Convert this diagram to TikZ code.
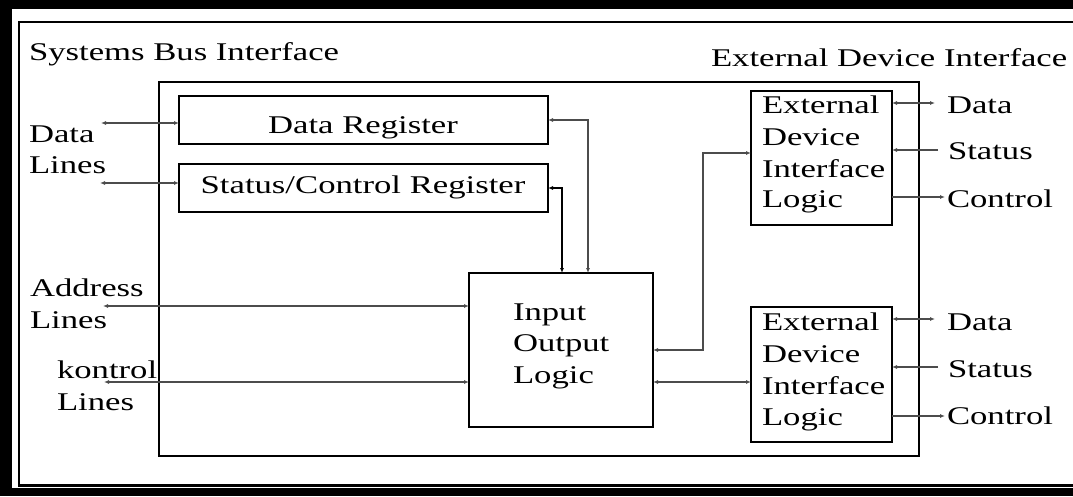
\documentclass[tikz,border=0pt]{standalone}
\usepackage{fontspec}
\setmainfont{Liberation Serif}[FakeStretch=1.36]
\usetikzlibrary{arrows.meta}
\begin{document}
\begin{tikzpicture}[x=1pt,y=-1pt,
  >={Latex[length=5pt,width=4pt]},
  every node/.style={font=\fontsize{25.5}{31}\selectfont, inner sep=0pt, outer sep=0pt},
  lbl/.style={anchor=base west},
  clbl/.style={anchor=base},
  boxnode/.style={draw, line width=1.8pt, anchor=north west, rectangle},
  conn/.style={line width=1.1pt, draw=black!70},
  darkconn/.style={line width=1.5pt, draw=black}]
\useasboundingbox (0,0) rectangle (1073,496);
% page background and frame
\fill[black] (0,0) rectangle (1073,496);
\fill[white] (12,9) rectangle (1073,487.5);
\draw[line width=2pt] (1080,22) -- (19,22) -- (19,485);
\draw[line width=3pt] (18,485) -- (1080,485);

% titles
\node[lbl] (tsys) at (29,60) {Systems Bus Interface};
\node[lbl] (text) at (711,66) {External Device Interface};

% boxes
\node[boxnode, minimum width=760pt, minimum height=374pt] (dev) at (159,82) {};
\node[boxnode, minimum width=369pt, minimum height=48pt] (dr) at (179,96) {};
\node[boxnode, minimum width=369pt, minimum height=48pt] (sc) at (179,164) {};
\node[boxnode, minimum width=184pt, minimum height=154pt] (io) at (469,273) {};
\node[boxnode, minimum width=141pt, minimum height=134pt] (e1) at (751,91) {};
\node[boxnode, minimum width=141pt, minimum height=135pt] (e2) at (751,307) {};

% box texts
\node[clbl] (drt) at (363,133) {Data Register};
\node[clbl] (sct) at (363,193) {Status/Control Register};
\node[lbl] (io1) at (513,320) {Input};
\node[lbl] (io2) at (513,351) {Output};
\node[lbl] (io3) at (513,383) {Logic};
\node[lbl] (e1a) at (762,113) {External};
\node[lbl] (e1b) at (762,145) {Device};
\node[lbl] (e1c) at (762,177) {Interface};
\node[lbl] (e1d) at (762,207) {Logic};
\node[lbl] (e2a) at (762,330) {External};
\node[lbl] (e2b) at (762,362) {Device};
\node[lbl] (e2c) at (762,394) {Interface};
\node[lbl] (e2d) at (762,425) {Logic};

% left labels
\node[lbl] (ld1) at (29,142) {Data};
\node[lbl] (ld2) at (29,173) {Lines};
\node[lbl] (la1) at (30,296) {Address};
\node[lbl] (la2) at (30,328) {Lines};
\node[lbl] (lk1) at (57,378) {kontrol};
\node[lbl] (lk2) at (57,410) {Lines};

% right labels
\node[lbl] (r1d) at (947,113) {Data};
\node[lbl] (r1s) at (948,159) {Status};
\node[lbl] (r1c) at (947,207) {Control};
\node[lbl] (r2d) at (947,330) {Data};
\node[lbl] (r2s) at (948,377) {Status};
\node[lbl] (r2c) at (947,424) {Control};

% free ends
\coordinate (dlend) at (101,123);
\coordinate (slend) at (100,183);
\coordinate (alend) at (103,306);
\coordinate (klend) at (104,382);
\coordinate (v1) at (588,0);
\coordinate (v2) at (562,0);
\coordinate (v3) at (703,153);
\coordinate (d1) at (935,103);
\coordinate (s1) at (938,150);
\coordinate (c1) at (945,197);
\coordinate (d2) at (935,319);
\coordinate (s2) at (938,367);
\coordinate (c2) at (945,416);

% system bus connectors
\draw[conn,<->] (dlend) -- (dlend -| dr.west);
\draw[conn,<->] (slend) -- (slend -| sc.west);
\draw[conn,<->] (alend) -- (alend -| io.west);
\draw[conn,<->] (klend) -- (klend -| io.west);

% registers to IO logic
\draw[conn,<->] (dr.east) -| (v1 |- io.north);
\draw[darkconn,<->] (sc.east) -| (v2 |- io.north);

% IO logic to external device logic
\draw[conn,<->] (io.east) -| (v3) -- (v3 -| e1.west);
\draw[conn,<->] (klend -| io.east) -- (klend -| e2.west);

% external side
\draw[conn,<->] (d1 -| e1.east) -- (d1);
\draw[conn,->] (s1) -- (s1 -| e1.east);
\draw[conn,->] (c1 -| e1.east) -- (c1);
\draw[conn,<->] (d2 -| e2.east) -- (d2);
\draw[conn,->] (s2) -- (s2 -| e2.east);
\draw[conn,->] (c2 -| e2.east) -- (c2);
\end{tikzpicture}
\end{document}
